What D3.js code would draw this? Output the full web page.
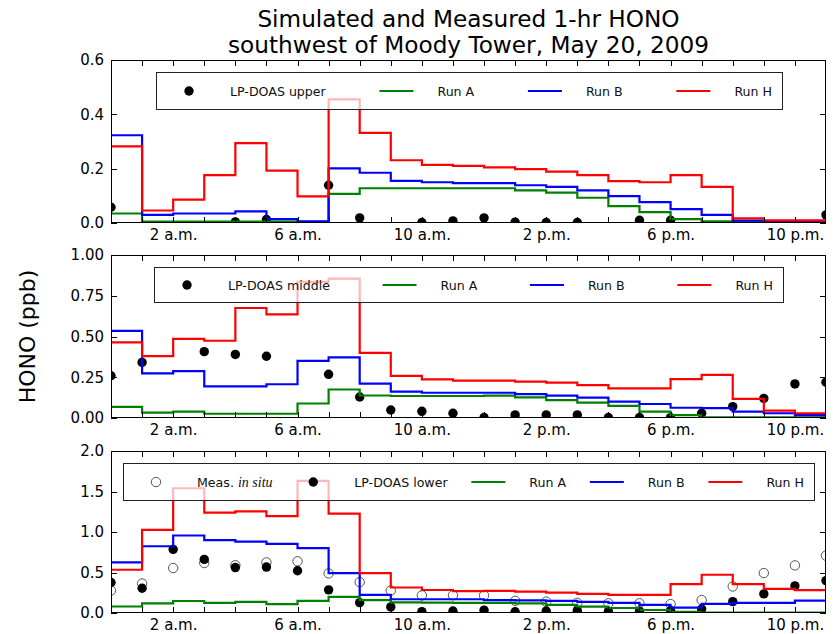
<!DOCTYPE html>
<html>
<head>
<meta charset="utf-8">
<script src="https://cdn.jsdelivr.net/npm/d3@7/dist/d3.min.js"></script>
<style>
  html, body { margin: 0; padding: 0; background: #fff; }
  svg { display: block; font-family: "DejaVu Sans", sans-serif; }
</style>
</head>
<body>
<svg id="chart" width="837" height="634"></svg>
<script>
// Hourly HONO, May 20 2009, three heights near Moody Tower (ppb)
const stepHours = d3.range(23);          // start hour of each model interval
const obsHours = d3.range(24);           // observation hours
const tickHours = [2, 6, 10, 14, 18, 22];
const tickLabels = ["2 a.m.", "6 a.m.", "10 a.m.", "2 p.m.", "6 p.m.", "10 p.m."];

// Upper level
const upperRunA = [0.035, 0.005, 0.005, 0.005, 0.005, 0.005, 0.004, 0.107, 0.128, 0.128, 0.128, 0.128, 0.128, 0.12, 0.112, 0.093, 0.062, 0.04, 0.014, 0.006, 0.003, 0.003, 0.003];
const upperRunB = [0.323, 0.03, 0.035, 0.035, 0.043, 0.014, 0.006, 0.201, 0.185, 0.155, 0.15, 0.147, 0.147, 0.139, 0.133, 0.12, 0.099, 0.077, 0.051, 0.03, 0.009, 0.005, 0.005];
const upperRunH = [0.282, 0.046, 0.086, 0.176, 0.294, 0.193, 0.098, 0.455, 0.332, 0.231, 0.214, 0.21, 0.205, 0.198, 0.189, 0.176, 0.154, 0.15, 0.176, 0.133, 0.017, 0.01, 0.01];
const upperDoas = [0.058, null, null, null, 0.004, 0.013, null, 0.139, 0.019, null, 0.002, 0.008, 0.019, 0.003, 0.002, 0.002, null, 0.01, 0.01, null, null, null, null, 0.03];

// Middle level
const middleRunA = [0.068, 0.033, 0.039, 0.026, 0.026, 0.026, 0.089, 0.175, 0.138, 0.135, 0.135, 0.135, 0.137, 0.127, 0.11, 0.094, 0.074, 0.039, 0.018, 0.004, 0.004, 0.004, 0.004];
const middleRunB = [0.534, 0.274, 0.288, 0.194, 0.194, 0.207, 0.35, 0.372, 0.211, 0.162, 0.155, 0.155, 0.155, 0.147, 0.137, 0.125, 0.1, 0.086, 0.063, 0.06, 0.039, 0.029, 0.018];
const middleRunH = [0.464, 0.38, 0.485, 0.474, 0.675, 0.636, 0.835, 0.855, 0.4, 0.258, 0.237, 0.229, 0.229, 0.223, 0.217, 0.202, 0.182, 0.182, 0.239, 0.264, 0.117, 0.045, 0.029];
const middleDoas = [0.259, 0.341, null, 0.407, 0.39, 0.379, null, 0.268, 0.129, 0.049, 0.041, 0.029, 0.003, 0.019, 0.019, 0.019, 0.003, 0.003, 0.002, 0.029, 0.07, 0.12, 0.209, 0.22];

// Lower level
const lowerRunA = [0.08, 0.12, 0.148, 0.125, 0.137, 0.11, 0.15, 0.2, 0.16, 0.13, 0.128, 0.126, 0.124, 0.12, 0.1, 0.078, 0.062, 0.037, 0.014, 0.005, 0.005, 0.005, 0.005];
const lowerRunB = [0.625, 0.824, 0.957, 0.9, 0.882, 0.853, 0.8, 0.493, 0.224, 0.17, 0.17, 0.17, 0.16, 0.155, 0.15, 0.137, 0.124, 0.1, 0.066, 0.112, 0.124, 0.124, 0.153];
const lowerRunH = [0.534, 1.027, 1.54, 1.238, 1.255, 1.197, 1.631, 1.226, 0.493, 0.315, 0.284, 0.27, 0.273, 0.265, 0.252, 0.236, 0.224, 0.224, 0.356, 0.472, 0.356, 0.298, 0.282];
const lowerDoas = [0.377, 0.306, 0.786, 0.662, 0.561, 0.567, 0.522, 0.286, 0.128, 0.075, 0.017, 0.025, 0.035, 0.015, 0.025, 0.029, 0.017, 0.025, 0.03, 0.05, 0.14, 0.236, 0.335, 0.4];
const lowerInSitu = [0.277, 0.364, 0.555, 0.617, 0.59, 0.625, 0.638, 0.489, 0.381, 0.277, 0.217, 0.219, 0.216, 0.15, 0.14, 0.125, 0.12, 0.12, 0.11, 0.16, 0.327, 0.493, 0.588, 0.708];

const upperTicks = [0, 0.2, 0.4, 0.6];
const middleTicks = [0, 0.25, 0.5, 0.75, 1.0];
const lowerTicks = [0, 0.5, 1.0, 1.5, 2.0];

const runColors = { A: "#008000", B: "#0000ff", H: "#ff0000" };

const panels = [
  { top: 60, bottom: 223, yMax: 0.6, ticks: upperTicks, fmt: d3.format(".1f"),
    runs: { A: upperRunA, B: upperRunB, H: upperRunH },
    obs: [{ values: upperDoas, kind: "dot" }],
    legend: { x0: 156, x1: 782, y0: 72, y1: 109,
      items: [{ kind: "dot", text: "LP-DOAS upper" }, { kind: "A", text: "Run A" }, { kind: "B", text: "Run B" }, { kind: "H", text: "Run H" }] } },
  { top: 255, bottom: 418, yMax: 1.0, ticks: middleTicks, fmt: d3.format(".2f"),
    runs: { A: middleRunA, B: middleRunB, H: middleRunH },
    obs: [{ values: middleDoas, kind: "dot" }],
    legend: { x0: 154, x1: 783, y0: 267, y1: 302,
      items: [{ kind: "dot", text: "LP-DOAS middle" }, { kind: "A", text: "Run A" }, { kind: "B", text: "Run B" }, { kind: "H", text: "Run H" }] } },
  { top: 451, bottom: 613, yMax: 2.0, ticks: lowerTicks, fmt: d3.format(".1f"),
    runs: { A: lowerRunA, B: lowerRunB, H: lowerRunH },
    obs: [{ values: lowerInSitu, kind: "open" }, { values: lowerDoas, kind: "dot" }],
    legend: { x0: 123, x1: 814, y0: 463, y1: 500,
      items: [{ kind: "open", text: "Meas. ", italic: "in situ" }, { kind: "dot", text: "LP-DOAS lower" }, { kind: "A", text: "Run A" }, { kind: "B", text: "Run B" }, { kind: "H", text: "Run H" }] } }
];

const svg = d3.select("#chart");
const x = d3.scaleLinear().domain([0, 23]).range([111, 826]);

// Title
svg.append("text").attr("x", 468.5).attr("y", 27).attr("text-anchor", "middle")
  .attr("font-size", 23.2).text("Simulated and Measured 1-hr HONO");
svg.append("text").attr("x", 468.5).attr("y", 53).attr("text-anchor", "middle")
  .attr("font-size", 23.2).text("southwest of Moody Tower, May 20, 2009");

// Shared y-axis label
svg.append("text").attr("transform", "translate(35,336.5) rotate(-90)")
  .attr("text-anchor", "middle").attr("font-size", 22).text("HONO (ppb)");

const DOT_R = 4.7;

function drawMarker(g, kind, cx, cy) {
  if (kind === "open") {
    g.append("circle").attr("cx", cx).attr("cy", cy).attr("r", DOT_R)
      .attr("fill", "#fff").attr("stroke", "#555").attr("stroke-width", 1);
  } else {
    g.append("circle").attr("cx", cx).attr("cy", cy).attr("r", DOT_R).attr("fill", "#000");
  }
}

panels.forEach((p, i) => {
  const y = d3.scaleLinear().domain([0, p.yMax]).range([p.bottom, p.top]);
  const g = svg.append("g");
  const clipId = "clip" + i;
  svg.append("clipPath").attr("id", clipId).append("rect")
    .attr("x", x(0)).attr("y", p.top).attr("width", x(23) - x(0)).attr("height", p.bottom - p.top);
  const data = g.append("g").attr("clip-path", `url(#${clipId})`);

  // Observations
  p.obs.forEach(o => {
    const og = data.append("g");
    obsHours.forEach((h, k) => {
      const v = o.values[k];
      if (v === null) return;
      drawMarker(og, o.kind, x(h), y(v));
    });
  });

  // Model runs as hourly steps
  const line = d3.line().x(d => x(d[0])).y(d => y(d[1])).curve(d3.curveStepAfter);
  ["A", "B", "H"].forEach(key => {
    const vals = p.runs[key];
    const pts = stepHours.map((h, k) => [h, vals[k]]);
    pts.push([23, vals[vals.length - 1]]);
    data.append("path").attr("d", line(pts)).attr("fill", "none")
      .attr("stroke", runColors[key]).attr("stroke-width", 2.2)
      .attr("stroke-linejoin", "miter");
  });

  // Frame and inward ticks
  const ax = g.append("g").attr("stroke", "#000").attr("stroke-width", 1);
  ax.append("rect").attr("x", x(0) + 0.5).attr("y", p.top + 0.5)
    .attr("width", x(23) - x(0) - 1).attr("height", p.bottom - p.top - 1).attr("fill", "none");
  d3.range(1, 23).forEach(h => {
    const xx = Math.round(x(h)) + 0.5;
    ax.append("line").attr("x1", xx).attr("x2", xx).attr("y1", p.bottom).attr("y2", p.bottom - 6);
    ax.append("line").attr("x1", xx).attr("x2", xx).attr("y1", p.top).attr("y2", p.top + 6);
  });
  p.ticks.forEach(t => {
    const yy = Math.round(y(t)) + 0.5;
    ax.append("line").attr("x1", x(0)).attr("x2", x(0) + 6).attr("y1", yy).attr("y2", yy);
    ax.append("line").attr("x1", x(23)).attr("x2", x(23) - 6).attr("y1", yy).attr("y2", yy);
  });

  // Tick labels
  const yAxis = d3.axisLeft(y).tickValues(p.ticks).tickFormat(p.fmt).tickSize(0).tickPadding(7);
  const ya = g.append("g").attr("transform", `translate(${x(0)},0)`).call(yAxis);
  ya.select(".domain").remove();
  ya.selectAll("text").attr("font-size", 15).attr("font-family", "DejaVu Sans").attr("fill", "#000");

  const xAxis = d3.axisBottom(x).tickValues(tickHours).tickFormat((d, k) => tickLabels[k]).tickSize(0).tickPadding(6);
  const xa = g.append("g").attr("transform", `translate(0,${p.bottom})`).call(xAxis);
  xa.select(".domain").remove();
  xa.selectAll("text").attr("font-size", 15).attr("font-family", "DejaVu Sans").attr("fill", "#000");

  // Legend
  const L = p.legend;
  const lg = g.append("g");
  lg.append("rect").attr("x", L.x0 + 0.5).attr("y", L.y0 + 0.5)
    .attr("width", L.x1 - L.x0).attr("height", L.y1 - L.y0)
    .attr("fill", "#fff").attr("fill-opacity", 0.72)
    .attr("stroke", "#222").attr("stroke-width", 1);
  const cy = (L.y0 + L.y1) / 2 + 0.5;
  const handleW = 34, textGap = 24, padL = 16, padR = 10;
  const labels = L.items.map(it => {
    const t = lg.append("text").attr("y", cy).attr("dy", "0.36em").attr("font-size", 12.6).attr("fill", "#111");
    t.append("tspan").text(it.text);
    if (it.italic) t.append("tspan").attr("font-family", "Liberation Serif, serif")
      .attr("font-style", "italic").attr("font-size", 14).text(it.italic);
    return t;
  });
  const widths = labels.map(t => handleW + textGap + t.node().getComputedTextLength());
  const gap = (L.x1 - L.x0 - padL - padR - d3.sum(widths)) / (widths.length - 1);
  let cx = L.x0 + padL;
  L.items.forEach((it, k) => {
    if (it.kind === "dot" || it.kind === "open") {
      drawMarker(lg, it.kind, cx + handleW / 2, cy);
    } else {
      lg.append("line").attr("x1", cx).attr("x2", cx + handleW).attr("y1", cy).attr("y2", cy)
        .attr("stroke", runColors[it.kind]).attr("stroke-width", 2.2);
    }
    labels[k].attr("x", cx + handleW + textGap);
    cx += widths[k] + gap;
  });
});
</script>
</body>
</html>
